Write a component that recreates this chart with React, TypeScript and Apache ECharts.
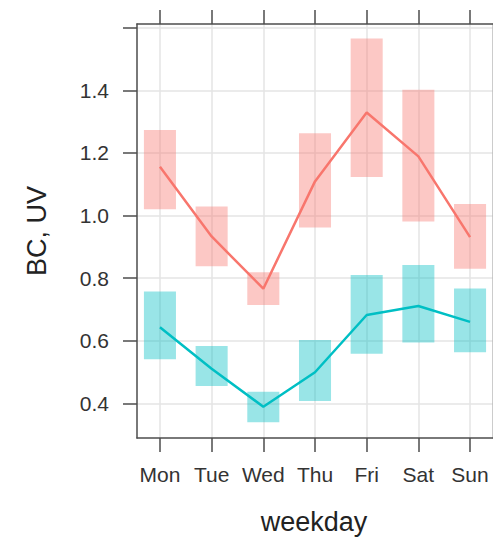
import React, { useEffect, useRef } from "react";
import * as echarts from "echarts";

const days = ["Mon", "Tue", "Wed", "Thu", "Fri", "Sat", "Sun"];
const bcMean = [1.156, 0.933, 0.766, 1.109, 1.329, 1.189, 0.931];
const bcLow = [1.02, 0.838, 0.714, 0.962, 1.123, 0.981, 0.83];
const bcHigh = [1.273, 1.029, 0.819, 1.263, 1.566, 1.402, 1.037];
const uvMean = [0.643, 0.51, 0.389, 0.499, 0.682, 0.711, 0.66];
const uvLow = [0.541, 0.455, 0.339, 0.407, 0.558, 0.594, 0.563];
const uvHigh = [0.757, 0.583, 0.437, 0.602, 0.81, 0.842, 0.767];
const yTickValues = [0.4, 0.6, 0.8, 1.0, 1.2, 1.4, 1.6];
const yLabelValues = [0.4, 0.6, 0.8, 1.0, 1.2, 1.4];
const xTickValues = [1, 2, 3, 4, 5, 6, 7];

const FONT = "'Liberation Sans', Arial, sans-serif";
const AXIS = "#4d4d4d";
const GRIDC = "#e4e4e4";
const TEXTC = "#333333";

function boxSeries(low: number[], high: number[], color: string) {
  return {
    type: "custom",
    silent: true,
    data: low.map((l, i) => [i + 1, l, high[i]]),
    renderItem: (params: any, api: any) => {
      const x = api.value(0);
      const p1 = api.coord([x, api.value(2)]);
      const p2 = api.coord([x, api.value(1)]);
      const w = api.size([0.62, 0])[0];
      return {
        type: "rect",
        shape: { x: p1[0] - w / 2, y: p1[1], width: w, height: p2[1] - p1[1] },
        style: { fill: color },
      };
    },
    z: 2,
  };
}

function lineSeries(vals: number[], color: string) {
  return {
    type: "line",
    data: vals.map((v, i) => [i + 1, v]),
    showSymbol: false,
    symbol: "none",
    lineStyle: { color, width: 2.5 },
    z: 3,
  };
}

export default function App() {
  const ref = useRef<HTMLDivElement>(null);
  useEffect(() => {
    const chart = echarts.init(ref.current!, undefined, { renderer: "svg" });
    chart.setOption({
      animation: false,
      backgroundColor: "#ffffff",
      grid: { left: 137, right: 0, top: 24, bottom: 104 },
      xAxis: [
        {
          type: "value",
          min: 0.556,
          max: 7.444,
          position: "bottom",
          axisLine: { show: true, onZero: false, lineStyle: { color: AXIS, width: 1.5 } },
          axisTick: { show: true, customValues: xTickValues, length: 14, lineStyle: { color: AXIS, width: 1.5 } },
          axisLabel: {
            customValues: xTickValues,
            formatter: (v: number) => days[Math.round(v) - 1] ?? "",
            margin: 26,
            fontSize: 21,
            fontFamily: FONT,
            color: TEXTC,
          },
          splitLine: { show: true, lineStyle: { color: GRIDC, width: 1.5 } },
        },
        {
          type: "value",
          min: 0.556,
          max: 7.444,
          position: "top",
          axisLine: { show: true, onZero: false, lineStyle: { color: AXIS, width: 1.5 } },
          axisTick: { show: true, customValues: xTickValues, length: 14, lineStyle: { color: AXIS, width: 1.5 } },
          axisLabel: { show: false },
          splitLine: { show: false },
        },
      ],
      yAxis: [
        {
          type: "value",
          min: 0.289,
          max: 1.612,
          position: "left",
          axisLine: { show: true, onZero: false, lineStyle: { color: AXIS, width: 1.5 } },
          axisTick: { show: true, customValues: yTickValues, length: 14, lineStyle: { color: AXIS, width: 1.5 } },
          axisLabel: {
            customValues: yLabelValues,
            formatter: (v: number) => v.toFixed(1),
            margin: 28,
            fontSize: 21,
            fontFamily: FONT,
            color: TEXTC,
          },
          splitLine: { show: true, lineStyle: { color: GRIDC, width: 1.5 } },
        },
        {
          type: "value",
          min: 0.289,
          max: 1.612,
          position: "right",
          axisLine: { show: true, onZero: false, lineStyle: { color: "#bbbbbb", width: 1.5 } },
          axisTick: { show: false },
          axisLabel: { show: false },
          splitLine: { show: false },
        },
      ],
      graphic: [
        {
          type: "text",
          x: 314,
          y: 522,
          style: {
            text: "weekday",
            fontSize: 27,
            fontFamily: FONT,
            fill: "#222",
            textAlign: "center",
            textVerticalAlign: "middle",
          },
        },
        {
          type: "text",
          x: 37,
          y: 231,
          rotation: Math.PI / 2,
          style: {
            text: "BC, UV",
            fontSize: 27,
            fontFamily: FONT,
            fill: "#222",
            textAlign: "center",
            textVerticalAlign: "middle",
          },
        },
      ],
      series: [
        boxSeries(bcLow, bcHigh, "rgba(248,118,109,0.4)"),
        boxSeries(uvLow, uvHigh, "rgba(0,191,196,0.4)"),
        lineSeries(bcMean, "#F8766D"),
        lineSeries(uvMean, "#00BFC4"),
      ],
    });
    return () => chart.dispose();
  }, []);
  return (
    <div
      ref={ref}
      style={{ position: "fixed", left: 0, top: 0, width: 493, height: 542 }}
    />
  );
}
